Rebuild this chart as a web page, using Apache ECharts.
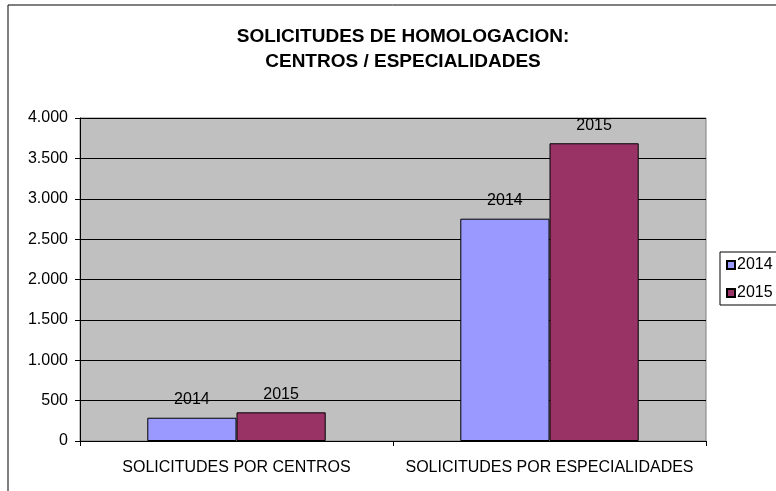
<!DOCTYPE html>
<html>
<head>
<meta charset="utf-8">
<style>
  html, body { margin: 0; padding: 0; background: #fff; }
  #chart { width: 776px; height: 491px; }
</style>
<script src="https://cdn.jsdelivr.net/npm/echarts@6/dist/echarts.min.js"></script>
</head>
<body>
<div id="chart"></div>
<script>
const categories = ['SOLICITUDES POR CENTROS', 'SOLICITUDES POR ESPECIALIDADES'];
const seriesNames = ['2014', '2015'];
const values2014 = [288, 2753];
const values2015 = [355, 3687];
const yTicks = [0, 500, 1000, 1500, 2000, 2500, 3000, 3500, 4000];

const font = 'Liberation Sans, Arial, sans-serif';

function fmt(v) {
    return String(v).replace(/\B(?=(\d{3})+(?!\d))/g, '.');
}

const chart = echarts.init(document.getElementById('chart'));

const option = {
    animation: false,
    textStyle: { fontFamily: font, color: '#000' },
    title: {
        text: 'SOLICITUDES DE HOMOLOGACION:\nCENTROS / ESPECIALIDADES',
        left: 398,
        textAlign: 'center',
        top: 19,
        textStyle: { fontFamily: font, fontSize: 19, fontWeight: 'bold', color: '#000', lineHeight: 25 }
    },
    legend: {
        data: seriesNames,
        orient: 'vertical',
        left: 720,
        top: 252,
        itemWidth: 8,
        itemHeight: 8,
        itemGap: 12,
        icon: 'rect',
        padding: [5, 30, 4, 6],
        borderColor: '#000',
        borderWidth: 1,
        textStyle: { fontFamily: font, fontSize: 16, color: '#000', padding: [0, 0, 0, -3] }
    },
    graphic: [{
        type: 'rect',
        shape: { x: 8, y: 5, width: 800, height: 500 },
        style: { fill: 'none', stroke: '#000', lineWidth: 1 },
        silent: true,
        z: -1
    }],
    grid: {
        left: 80,
        top: 118,
        right: 70,
        bottom: 50,
        show: true,
        backgroundColor: '#C0C0C0',
        borderColor: '#808080',
        borderWidth: 1
    },
    xAxis: {
        type: 'category',
        data: categories,
        axisLine: { lineStyle: { color: '#000', width: 1 } },
        axisTick: { show: true, length: 5, lineStyle: { color: '#000' } },
        axisLabel: { fontFamily: font, fontSize: 16, color: '#000', margin: 19, interval: 0 }
    },
    yAxis: {
        type: 'value',
        min: 0,
        max: 4000,
        interval: 500,
        axisLine: { show: true, lineStyle: { color: '#000', width: 1 } },
        axisTick: { show: true, length: 5, lineStyle: { color: '#000' } },
        axisLabel: {
            fontFamily: font, fontSize: 16, color: '#000', margin: 12,
            formatter: function (v) { return yTicks.indexOf(v) >= 0 ? fmt(v) : ''; }
        },
        splitLine: { show: true, lineStyle: { color: '#000', width: 1 } }
    },
    series: [
        {
            name: seriesNames[0],
            type: 'bar',
            data: values2014,
            barGap: '0%',
            barCategoryGap: '43%',
            itemStyle: { color: '#9999FF', borderColor: '#000', borderWidth: 1 },
            label: {
                show: true, position: 'top', distance: 10, formatter: '{a}',
                fontFamily: font, fontSize: 16, color: '#000'
            }
        },
        {
            name: seriesNames[1],
            type: 'bar',
            data: values2015,
            itemStyle: { color: '#993366', borderColor: '#000', borderWidth: 1 },
            label: {
                show: true, position: 'top', distance: 10, formatter: '{a}',
                fontFamily: font, fontSize: 16, color: '#000'
            }
        }
    ]
};

chart.setOption(option);

window.addEventListener('resize', function () {
    chart.resize();
});
</script>
</body>
</html>
